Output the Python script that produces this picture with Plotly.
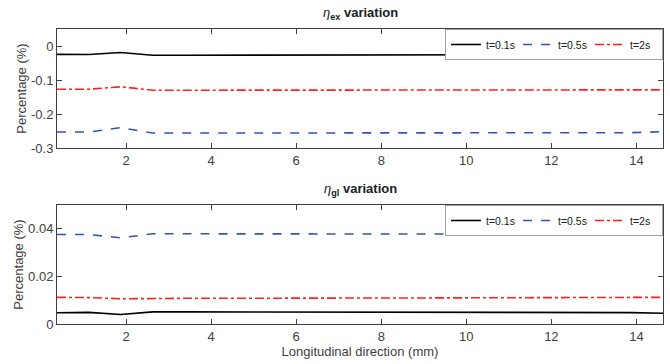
import plotly.graph_objects as go

x = [0.375 + 0.75 * i for i in range(20)]

ex_t01 = [-0.0245, -0.025, -0.019, -0.027, -0.027, -0.027, -0.027, -0.027, -0.027, -0.027,
          -0.027, -0.027, -0.027, -0.027, -0.027, -0.027, -0.027, -0.027, -0.0265, -0.025]
ex_t05 = [-0.253, -0.253, -0.240, -0.256, -0.256, -0.256, -0.256, -0.256, -0.256, -0.256,
          -0.256, -0.256, -0.256, -0.256, -0.256, -0.256, -0.256, -0.256, -0.255, -0.252]
ex_t2 = [-0.127, -0.127, -0.120, -0.130, -0.130, -0.130, -0.131, -0.131, -0.131, -0.131,
         -0.131, -0.131, -0.131, -0.131, -0.131, -0.131, -0.131, -0.130, -0.130, -0.129]

gl_t01 = [0.0047, 0.0049, 0.0040, 0.0051, 0.0051, 0.0051, 0.0051, 0.0051, 0.0051, 0.0051,
          0.0051, 0.0051, 0.0051, 0.0051, 0.0051, 0.0051, 0.0050, 0.0050, 0.0048, 0.0045]
gl_t05 = [0.0376, 0.0376, 0.0362, 0.0379, 0.0379, 0.0379, 0.0379, 0.0379, 0.0379, 0.0379,
          0.0379, 0.0379, 0.0379, 0.0379, 0.0379, 0.0379, 0.0379, 0.0379, 0.0378, 0.0377]
gl_t2 = [0.0112, 0.0111, 0.0106, 0.0108, 0.0108, 0.0108, 0.0109, 0.0109, 0.0109, 0.0109,
         0.0109, 0.0109, 0.0109, 0.0109, 0.0109, 0.0109, 0.0110, 0.0110, 0.0111, 0.0112]

labels = ["t=0.1s", "t=0.5s", "t=2s"]
colors = ["#000000", "#3355b0", "#ff2020"]
dashes = ["solid", "dash", "dashdot"]

FONT = "Liberation Sans, Arial, sans-serif"
fig = go.Figure()
for ys, lab, c, d in zip([ex_t01, ex_t05, ex_t2], labels, colors, dashes):
    fig.add_trace(go.Scatter(x=x, y=ys, mode="lines", name=lab, xaxis="x", yaxis="y",
                             line=dict(color=c, dash=d, width=1.6), legend="legend"))
for ys, lab, c, d in zip([gl_t01, gl_t05, gl_t2], labels, colors, dashes):
    fig.add_trace(go.Scatter(x=x, y=ys, mode="lines", name=lab, xaxis="x2", yaxis="y2",
                             line=dict(color=c, dash=d, width=1.6), legend="legend2"))

axcommon = dict(showline=True, linecolor="#404040", linewidth=1, mirror="ticks",
                ticks="inside", ticklen=5, tickcolor="#404040", showgrid=False,
                zeroline=False, tickfont=dict(size=13, color="#404040", family=FONT))

H = 295.0
legcommon = dict(orientation="h", xanchor="right", yanchor="top",
                 bordercolor="#a0a0a0", borderwidth=1, bgcolor="white",
                 font=dict(size=10.5, color="#202020"), itemwidth=30,
                 entrywidth=27, entrywidthmode="pixels", tracegroupgap=0)
fig.update_layout(
    width=670, height=364,
    margin=dict(l=57, r=7, t=29, b=40),
    paper_bgcolor="white", plot_bgcolor="white",
    font=dict(family=FONT, color="#404040"),
    xaxis=dict(domain=[0, 1], range=[0.375, 14.625], tickvals=[2, 4, 6, 8, 10, 12, 14],
               anchor="y", **axcommon),
    yaxis=dict(domain=[(324 - 148) / H, 1], range=[-0.3, 0.05], tickvals=[0, -0.1, -0.2, -0.3],
               ticktext=["0", "-0.1", "-0.2", "-0.3"], anchor="x",
               title=dict(text="Percentage (%)", font=dict(size=13, color="#404040"), standoff=1),
               **axcommon),
    xaxis2=dict(domain=[0, 1], range=[0.375, 14.625], tickvals=[2, 4, 6, 8, 10, 12, 14],
                anchor="y2",
                title=dict(text="Longitudinal direction (mm)", font=dict(size=13, color="#404040"), standoff=3),
                **axcommon),
    yaxis2=dict(domain=[0, (324 - 205) / H], range=[0, 0.05], tickvals=[0, 0.02, 0.04],
                ticktext=["0", "0.02", "0.04"], anchor="x2",
                title=dict(text="Percentage (%)", font=dict(size=13, color="#404040"), standoff=1),
                **axcommon),
    legend=dict(x=1, y=1, **legcommon),
    legend2=dict(x=1, y=(324 - 205) / H, **legcommon),
    annotations=[
        dict(text="<i>η</i><sub><b>ex</b></sub> <b>variation</b>", x=0.5, xref="paper",
             y=1, yref="paper", yshift=5, yanchor="bottom", showarrow=False,
             font=dict(size=13, color="#202020", family=FONT)),
        dict(text="<i>η</i><sub><b>gl</b></sub> <b>variation</b>", x=0.5, xref="paper",
             y=(324 - 205) / H, yref="paper", yshift=5, yanchor="bottom", showarrow=False,
             font=dict(size=13, color="#202020", family=FONT)),
    ],
)

fig.write_html("out.html")
